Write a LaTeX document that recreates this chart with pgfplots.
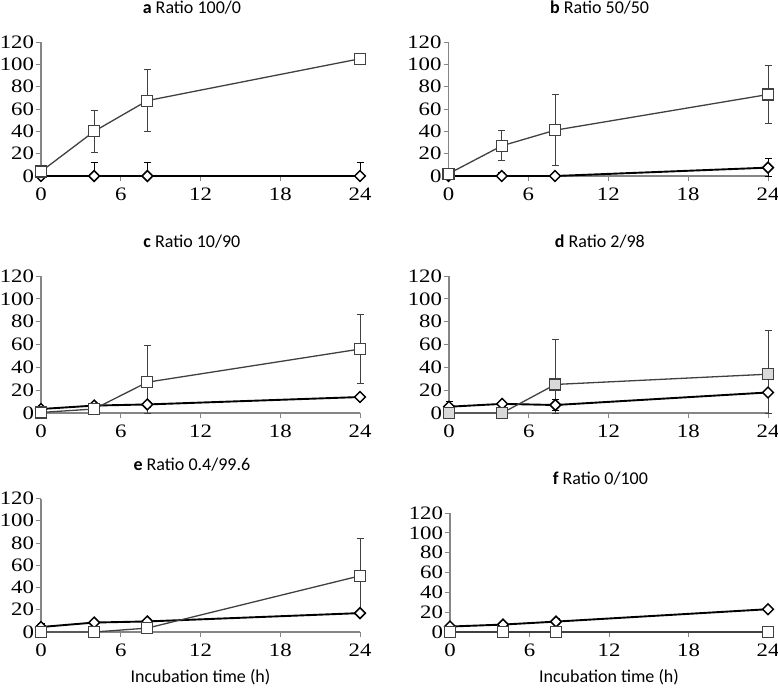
\documentclass[border=0pt]{standalone}
\usepackage{fontspec}
\setmainfont{Liberation Serif}
\newfontfamily\calibri{Carlito}
\newfontfamily\tickfont[FakeStretch=1.2]{Liberation Serif}
\usepackage{pgfplots}
\pgfplotsset{compat=1.18}

\definecolor{axgray}{HTML}{868686}
\definecolor{sqline}{HTML}{404040}
\definecolor{sqfill}{HTML}{D9D9D9}

\pgfplotsset{
  panel/.style={
    scale only axis, anchor=south west,
    xmin=0, xmax=24, ymin=0, ymax=120,
    xtick={0,6,12,18,24}, ytick={0,20,...,120},
    axis lines*=left,
    axis line style={axgray, line width=1.2pt, -},
    tick style={axgray, line width=1pt},
    tick align=outside, major tick length=5pt,
    tick label style={font=\tickfont\fontsize{19}{20}\selectfont},
    xticklabel style={yshift=-3pt},
    yticklabel style={xshift=1.5pt},
    /pgf/number format/assume math mode=true,
    clip=false,
    title style={font=\calibri\fontsize{18}{20}\selectfont, at={(0.473,1)}, anchor=center, yshift=28pt},
    xlabel style={font=\calibri\fontsize{18}{20}\selectfont, at={(0.5,0)}, anchor=center, yshift=-45pt},
  },
  dia/.style={
    black, line width=1.9pt,
    mark=square*, mark size=3.8pt,
    mark options={rotate=45, fill=white, line width=1.5pt, solid},
    error bars/y dir=both, error bars/y explicit,
    error bars/error bar style={black, line width=1pt},
    error bars/error mark options={rotate=90, black, line width=1pt, mark size=3.5pt},
  },
  sq/.style={
    sqline, line width=1.3pt,
    mark=square*, mark size=5.5pt,
    mark options={fill=white, line width=1.2pt, solid},
    error bars/y dir=both, error bars/y explicit,
    error bars/error bar style={sqline, line width=1pt},
    error bars/error mark options={rotate=90, sqline, line width=1pt, mark size=3.5pt},
  },
}

\begin{document}
\begin{tikzpicture}
\useasboundingbox (0,0) rectangle (778pt,-690pt);

% a
\begin{axis}[panel, at={(41pt,-176pt)}, width=319pt, height=134pt,
  title={\textbf{a} Ratio 100/0}]
\addplot[dia] table[x=t, y=m, y error plus=ep, y error minus=em] {
t m ep em
0 0 0 0
4 0 12 0
8 0 12 0
24 0 12 0
};
\addplot[sq] table[x=t, y=m, y error plus=ep, y error minus=em] {
t m ep em
0 4 0 0
4 40 19 19
8 67.5 28 28
24 105 0 0
};
\end{axis}

% b
\begin{axis}[panel, at={(448.5pt,-176pt)}, width=319.5pt, height=134pt,
  title={\textbf{b} Ratio 50/50}]
\addplot[dia] table[x=t, y=m, y error plus=ep, y error minus=em] {
t m ep em
0 0 0 0
4 0 3 0
8 0 0 0
24 7.5 8 7.5
};
\addplot[sq] table[x=t, y=m, y error plus=ep, y error minus=em] {
t m ep em
0 2 0 0
4 27 13.5 13.5
8 41 32 32
24 73 26 26
};
\end{axis}

% c
\begin{axis}[panel, at={(41pt,-413pt)}, width=319pt, height=137pt,
  title={\textbf{c} Ratio 10/90}]
\addplot[dia] table[x=t, y=m, y error plus=ep, y error minus=em] {
t m ep em
0 3.5 0 0
4 6.5 0 0
8 7.5 3 3
24 14 0 0
};
\addplot[sq] table[x=t, y=m, y error plus=ep, y error minus=em] {
t m ep em
0 0.5 0 0
4 3.5 0 0
8 27 32 27
24 56 30 30
};
\end{axis}

% d
\begin{axis}[panel, at={(449pt,-413pt)}, width=319pt, height=137pt,
  title={\textbf{d} Ratio 2/98}]
\addplot[dia] table[x=t, y=m, y error plus=ep, y error minus=em] {
t m ep em
0 5.5 5 5.5
4 8 0 0
8 7 5 5
24 18 0 18
};
\addplot[sq, mark options={fill=sqfill}] table[x=t, y=m, y error plus=ep, y error minus=em] {
t m ep em
0 0 0 0
4 0 0 0
8 25 39 25
24 34 38 34
};
\end{axis}

% e
\begin{axis}[panel, at={(41pt,-632pt)}, width=319pt, height=133.5pt,
  title={\textbf{e} Ratio 0.4/99.6}, xlabel={Incubation time (h)}]
\addplot[dia] table[x=t, y=m, y error plus=ep, y error minus=em] {
t m ep em
0 4.5 3.5 4.5
4 8.5 0 0
8 9.5 3 3
24 17 0 0
};
\addplot[sq] table[x=t, y=m, y error plus=ep, y error minus=em] {
t m ep em
0 0 0 0
4 0 0 0
8 3.5 0 0
24 50.5 34 34
};
\end{axis}

% f
\begin{axis}[panel, at={(450pt,-632pt)}, width=318pt, height=119pt,
  title={\textbf{f} Ratio 0/100}, xlabel={Incubation time (h)}]
\addplot[dia] table[x=t, y=m, y error plus=ep, y error minus=em] {
t m ep em
0 5.5 0 0
4 7.5 0 0
8 10.5 3 3
24 23 0 0
};
\addplot[sq] table[x=t, y=m, y error plus=ep, y error minus=em] {
t m ep em
0 0 0 0
4 0 0 0
8 0 0 0
24 0 0 0
};
\end{axis}
\end{tikzpicture}
\end{document}
